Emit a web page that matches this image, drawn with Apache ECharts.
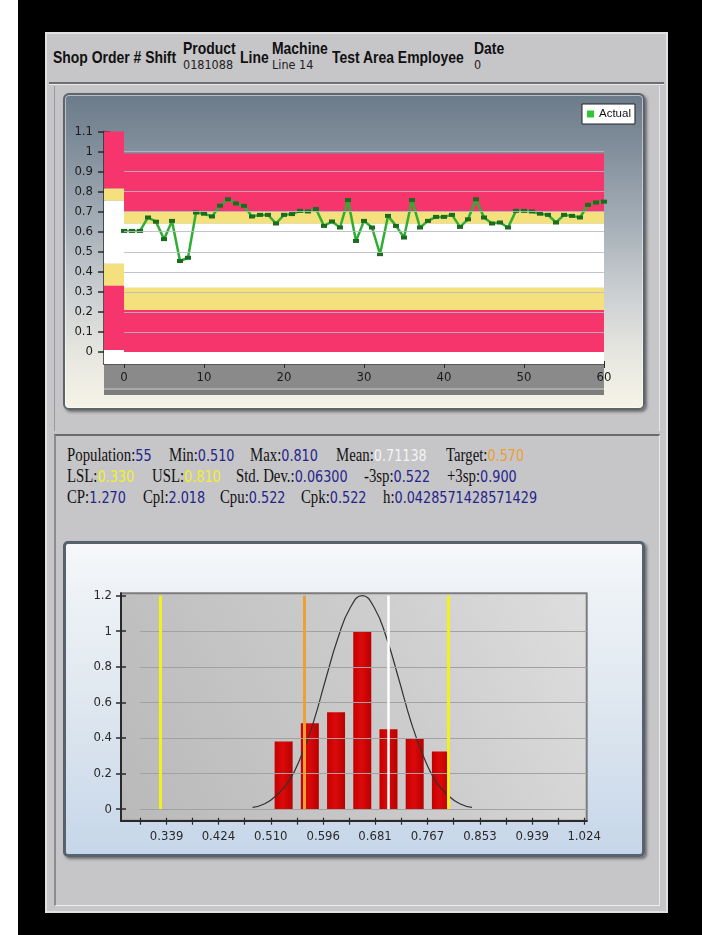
<!DOCTYPE html>
<html>
<head>
<meta charset="utf-8">
<script src="https://cdn.jsdelivr.net/npm/echarts@6.0.0/dist/echarts.min.js"></script>
<style>
html,body{margin:0;padding:0;width:702px;height:935px;overflow:hidden;background:#ffffff;}
.abs{position:absolute;box-sizing:border-box;}
#frame{left:18px;top:0;width:684px;height:935px;background:#000;}
#outer{left:45px;top:32px;width:623px;height:881px;background:#c6c5c8;border:2px solid #e1e1e3;}
#groove1{left:49px;top:82px;width:615px;height:3px;border-top:2px solid #6f6f73;border-bottom:1px solid #ececee;}
#sec1{left:54px;top:86px;width:606px;height:345px;border-left:1px solid #9a9a9e;border-right:1px solid #e6e6e8;}
#sec2{left:54px;top:434px;width:606px;height:472px;border-top:2px solid #6a6a6e;border-left:2px solid #8c8c90;border-right:1px solid #eaeaec;border-bottom:1px solid #eeeeef;}
#panel1{left:63px;top:93px;width:582px;height:317px;border:2px solid #5c646c;border-radius:6px;box-shadow:2px 2px 3px rgba(0,0,0,0.45), inset 0 0 0 1px rgba(255,255,255,0.5);background:linear-gradient(to bottom,#6c7b8a 0%,#7f8c99 15%,#a3adb6 40%,#c9cdd0 62%,#e6e6e0 82%,#f6f4e7 100%);}
#panel2{left:63px;top:541px;width:582px;height:316px;border:3px solid #57626e;border-radius:5px;box-shadow:2px 2px 3px rgba(0,0,0,0.45);background:linear-gradient(to bottom,#f6f8fa 0%,#eef2f6 14%,#dde6ef 55%,#c6d6e9 100%);}
#chart{left:0;top:0;width:702px;height:935px;}
.hd{position:absolute;white-space:nowrap;font-family:'Liberation Sans',Arial,sans-serif;font-weight:bold;font-size:17px;line-height:20px;color:#111;transform:scaleX(0.82);transform-origin:0 50%;}
.hv{position:absolute;white-space:nowrap;font-family:'DejaVu Sans Condensed','DejaVu Sans',sans-serif;font-size:12.5px;line-height:14px;color:#222;}
.st{position:absolute;white-space:nowrap;line-height:20px;transform:scaleX(0.8);transform-origin:0 50%;}
.st .l{font-family:'Liberation Serif','DejaVu Serif',serif;font-size:18.5px;color:#111;}
.st .v{font-family:'DejaVu Sans',Verdana,sans-serif;font-size:16px;color:#24248a;}
</style>
</head>
<body>
<div id="frame" class="abs"></div>
<div id="outer" class="abs"></div>
<div id="groove1" class="abs"></div>
<div id="sec1" class="abs"></div>
<div id="sec2" class="abs"></div>
<div id="panel1" class="abs"></div>
<div id="panel2" class="abs"></div>

<div class="hd" style="left:53px;top:48px;">Shop Order # Shift</div>
<div class="hd" style="left:183px;top:39px;">Product</div>
<div class="hv" style="left:183px;top:58px;">0181088</div>
<div class="hd" style="left:240px;top:48px;">Line</div>
<div class="hd" style="left:272px;top:39px;">Machine</div>
<div class="hv" style="left:272px;top:58px;">Line 14</div>
<div class="hd" style="left:332px;top:48px;">Test Area Employee</div>
<div class="hd" style="left:474px;top:39px;">Date</div>
<div class="hv" style="left:474px;top:58px;">0</div>

<div class="st" style="left:67px;top:445px;"><span class="l">Population:</span><span class="v">55</span></div>
<div class="st" style="left:169px;top:445px;"><span class="l">Min:</span><span class="v">0.510</span></div>
<div class="st" style="left:250px;top:445px;"><span class="l">Max:</span><span class="v">0.810</span></div>
<div class="st" style="left:336px;top:445px;"><span class="l">Mean:</span><span class="v" style="color:#f4f4f4;">0.71138</span></div>
<div class="st" style="left:446px;top:445px;"><span class="l">Target:</span><span class="v" style="color:#eba033;">0.570</span></div>

<div class="st" style="left:67px;top:466px;"><span class="l">LSL:</span><span class="v" style="color:#f2f02a;">0.330</span></div>
<div class="st" style="left:152px;top:466px;"><span class="l">USL:</span><span class="v" style="color:#f2f02a;">0.810</span></div>
<div class="st" style="left:236px;top:466px;"><span class="l">Std. Dev.:</span><span class="v">0.06300</span></div>
<div class="st" style="left:364px;top:466px;"><span class="l">-3sp:</span><span class="v">0.522</span></div>
<div class="st" style="left:447px;top:466px;"><span class="l">+3sp:</span><span class="v">0.900</span></div>

<div class="st" style="left:67px;top:487px;"><span class="l">CP:</span><span class="v">1.270</span></div>
<div class="st" style="left:143px;top:487px;"><span class="l">Cpl:</span><span class="v">2.018</span></div>
<div class="st" style="left:220px;top:487px;"><span class="l">Cpu:</span><span class="v">0.522</span></div>
<div class="st" style="left:301px;top:487px;"><span class="l">Cpk:</span><span class="v">0.522</span></div>
<div class="st" style="left:383px;top:487px;"><span class="l">h:</span><span class="v">0.0428571428571429</span></div>

<div id="chart" class="abs"></div>

<script>
// ---------------- control chart data ----------------
const sampleIndex = [0,1,2,3,4,5,6,7,8,9,10,11,12,13,14,15,16,17,18,19,20,21,22,23,24,25,26,27,28,29,30,31,32,33,34,35,36,37,38,39,40,41,42,43,44,45,46,47,48,49,50,51,52,53,54,55,56,57,58,59,60];
const actualValues = [0.604,0.604,0.604,0.671,0.650,0.563,0.654,0.454,0.470,0.696,0.690,0.676,0.730,0.762,0.741,0.729,0.676,0.684,0.684,0.641,0.684,0.688,0.704,0.701,0.713,0.629,0.651,0.621,0.758,0.554,0.654,0.621,0.488,0.679,0.629,0.571,0.758,0.621,0.654,0.674,0.674,0.684,0.624,0.662,0.762,0.671,0.641,0.646,0.621,0.704,0.704,0.701,0.690,0.684,0.646,0.684,0.679,0.671,0.734,0.746,0.750];
const topXTicks = [0,10,20,30,40,50,60];
const topYTicks = [0,0.1,0.2,0.3,0.4,0.5,0.6,0.7,0.8,0.9,1,1.1];
const topGridLines = [0.1,0.2,0.3,0.4,0.5,0.6,0.7,0.8,0.9,1.0];
const leftBandEdges = [1.1,0.815,0.755,0.44,0.33,0.01,-0.06];
const mainBandEdges = [0.99,0.70,0.64,0.32,0.21,0,-0.06];
const bandKinds = ['red','yellow','white','yellow','red','white'];

// ---------------- histogram data ----------------
const binCenters = [0.531,0.574,0.617,0.660,0.703,0.746,0.789];
const binHeights = [0.38,0.483,0.545,1.0,0.449,0.395,0.324];
const curveX = [0.48,0.50,0.52,0.54,0.56,0.58,0.60,0.62,0.64,0.66,0.68,0.70,0.72,0.74,0.76,0.78,0.80,0.82,0.84];
const curveY = [0.01,0.03,0.08,0.16,0.30,0.49,0.73,0.96,1.13,1.2,1.13,0.96,0.73,0.49,0.30,0.16,0.08,0.03,0.01];
const histXLabels = [0.339,0.424,0.510,0.596,0.681,0.767,0.853,0.939,1.024];
const histXTicks = [0.296,0.339,0.381,0.424,0.467,0.510,0.553,0.596,0.638,0.681,0.724,0.767,0.810,0.853,0.896,0.939,0.981,1.024];
const histYTicks = [0,0.2,0.4,0.6,0.8,1,1.2];
const histGridLines = [0,0.2,0.4,0.6,0.8,1.0];
const specNames = ['LSL','Target','Mean','USL'];
const specValues = [0.328,0.565,0.7025,0.8005];

// ---------------- styles ----------------
const BAND_COLORS = {red:'#f5356b', yellow:'#f4e07c', white:'#ffffff'};
const SPEC_STYLE = {LSL:{color:'#f4f01e',width:3}, Target:{color:'#eda132',width:3}, Mean:{color:'#ffffff',width:2.5}, USL:{color:'#f4f01e',width:3}};
const FONT = "'DejaVu Sans Condensed','Liberation Sans',sans-serif";

const X_MIN_TOP = -2.5, X_MAX_TOP = 60, Y_MIN_TOP = -0.06, Y_MAX_TOP = 1.1;
const X_MIN_H = 0.2642, X_MAX_H = 1.0282, Y_MIN_H = -0.065, Y_MAX_H = 1.213;

function bandAreas(edges, x0, x1) {
  const out = [];
  for (let i = 0; i < edges.length - 1; i++) {
    out.push([
      {xAxis: x0, yAxis: edges[i], itemStyle: {color: BAND_COLORS[bandKinds[i]]}},
      {xAxis: x1, yAxis: edges[i + 1]}
    ]);
  }
  return out;
}

const chart = echarts.init(document.getElementById('chart'), null, {renderer: 'canvas'});

const axisLabelTop = {color: '#1c1c1c', fontSize: 13, fontFamily: FONT};

const option = {
  animation: false,
  backgroundColor: 'transparent',
  grid: [
    {left: 104, right: 98, top: 131.5, bottom: 571, show: false},
    {left: 121, right: 115.3, top: 593.3, bottom: 114.3, show: true,
     borderColor: '#7c7c7c', borderWidth: 2,
     backgroundColor: {type: 'linear', x: 0, y: 1, x2: 1, y2: 0,
       colorStops: [{offset: 0, color: '#b9b9b9'}, {offset: 0.55, color: '#cbcbcb'}, {offset: 1, color: '#dedede'}]}}
  ],
  legend: {
    left: 582, top: 104,
    data: [{name: 'Actual', icon: 'rect', itemStyle: {color: '#33c433'}}],
    itemWidth: 7, itemHeight: 7,
    backgroundColor: '#ffffff', borderColor: '#222', borderWidth: 1,
    padding: [3, 4, 3, 5],
    textStyle: {color: '#111', fontSize: 11.5, fontFamily: "'Liberation Sans',Arial,sans-serif", lineHeight: 14},
    selectedMode: false
  },
  graphic: [
    {type: 'rect', z: -1, shape: {x: 104, y: 365, width: 500, height: 23}, style: {fill: '#8a8a8a'}},
    {type: 'rect', z: -1, shape: {x: 104, y: 388, width: 500, height: 2}, style: {fill: '#a9a9a9'}},
    {type: 'rect', z: -1, shape: {x: 104, y: 390, width: 500, height: 5}, style: {fill: '#7d7d7d'}}
  ],
  xAxis: [
    {type: 'value', gridIndex: 0, min: X_MIN_TOP, max: X_MAX_TOP, position: 'bottom',
     axisLine: {show: true, onZero: false, lineStyle: {color: '#2a2a2a', width: 1.5}},
     axisTick: {show: true, length: 4, customValues: topXTicks, lineStyle: {color: '#2a2a2a'}},
     axisLabel: Object.assign({customValues: topXTicks, margin: 7}, axisLabelTop),
     splitLine: {show: false}},
    {type: 'value', gridIndex: 0, min: X_MIN_TOP, max: X_MAX_TOP, position: 'bottom',
     axisLine: {show: false, onZero: false},
     axisTick: {show: true, inside: true, length: 3, customValues: topXTicks, lineStyle: {color: '#2a2a2a'}},
     axisLabel: {show: false}, splitLine: {show: false}},
    {type: 'value', gridIndex: 1, min: X_MIN_H, max: X_MAX_H, position: 'bottom',
     axisLine: {show: true, onZero: false, lineStyle: {color: '#2a2a2a', width: 2}},
     axisTick: {show: true, length: 4, customValues: histXTicks, lineStyle: {color: '#2a2a2a', width: 1.2}},
     axisLabel: {customValues: histXLabels, margin: 9, color: '#2a2a2a', fontSize: 13, fontFamily: FONT,
       formatter: v => v.toFixed(3)},
     splitLine: {show: false}},
    {type: 'value', gridIndex: 1, min: X_MIN_H, max: X_MAX_H, position: 'bottom',
     axisLine: {show: false, onZero: false},
     axisTick: {show: true, inside: true, length: 3, customValues: histXTicks, lineStyle: {color: '#2a2a2a', width: 1.2}},
     axisLabel: {show: false}, splitLine: {show: false}}
  ],
  yAxis: [
    {type: 'value', gridIndex: 0, min: Y_MIN_TOP, max: Y_MAX_TOP, position: 'left',
     axisLine: {show: true, onZero: false, lineStyle: {color: '#2a2a2a', width: 1.5}},
     axisTick: {show: true, length: 6, customValues: topYTicks, lineStyle: {color: '#2a2a2a', width: 1.5}},
     axisLabel: Object.assign({customValues: topYTicks, margin: 11, formatter: v => String(Math.round(v * 10) / 10)}, axisLabelTop),
     splitLine: {show: false}},
    {type: 'value', gridIndex: 0, min: Y_MIN_TOP, max: Y_MAX_TOP, position: 'left',
     axisLine: {show: false, onZero: false},
     axisTick: {show: true, inside: true, length: 6, customValues: topYTicks, lineStyle: {color: '#2a2a2a', width: 1.5}},
     axisLabel: {show: false}, splitLine: {show: false}},
    {type: 'value', gridIndex: 1, min: Y_MIN_H, max: Y_MAX_H, position: 'left',
     axisLine: {show: true, onZero: false, lineStyle: {color: '#2a2a2a', width: 2}},
     axisTick: {show: true, length: 5, customValues: histYTicks, lineStyle: {color: '#2a2a2a', width: 1.5}},
     axisLabel: {customValues: histYTicks, margin: 9, color: '#2a2a2a', fontSize: 13, fontFamily: FONT,
       formatter: v => String(Math.round(v * 10) / 10)},
     splitLine: {show: false}},
    {type: 'value', gridIndex: 1, min: Y_MIN_H, max: Y_MAX_H, position: 'left',
     axisLine: {show: false, onZero: false},
     axisTick: {show: true, inside: true, length: 5, customValues: histYTicks, lineStyle: {color: '#2a2a2a', width: 1.5}},
     axisLabel: {show: false}, splitLine: {show: false}}
  ],
  series: [
    {name: 'bands', type: 'line', xAxisIndex: 0, yAxisIndex: 0, data: [], z: 1, silent: true,
     markArea: {silent: true, label: {show: false},
       data: bandAreas(leftBandEdges, X_MIN_TOP, 0).concat(bandAreas(mainBandEdges, 0, X_MAX_TOP))}},
    {name: 'topgrid', type: 'line', xAxisIndex: 0, yAxisIndex: 0, data: [], z: 2, silent: true,
     markLine: {silent: true, symbol: ['none', 'none'], label: {show: false},
       lineStyle: {color: 'rgba(185,185,196,0.85)', width: 1, type: 'solid'},
       data: topGridLines.map(v => [{coord: [0, v]}, {coord: [X_MAX_TOP, v]}])}},
    {name: 'Actual', type: 'line', xAxisIndex: 0, yAxisIndex: 0, z: 3,
     data: sampleIndex.map((x, i) => [x, actualValues[i]]),
     symbol: 'rect', symbolSize: [6, 4], showSymbol: true,
     itemStyle: {color: '#1d6a21'},
     lineStyle: {color: '#2fae34', width: 2.5}},
    {name: 'histgrid', type: 'line', xAxisIndex: 2, yAxisIndex: 2, data: [], z: 1, silent: true,
     markLine: {silent: true, symbol: ['none', 'none'], label: {show: false},
       lineStyle: {color: '#a2a2a2', width: 1.2, type: 'solid'},
       data: histGridLines.map(v => [{coord: [0.296, v]}, {coord: [X_MAX_H, v]}])}},
    {name: 'Frequency', type: 'bar', xAxisIndex: 2, yAxisIndex: 2, z: 2, barWidth: 18,
     data: binCenters.map((c, i) => [c, binHeights[i]]),
     itemStyle: {color: {type: 'linear', x: 0, y: 0, x2: 1, y2: 0,
       colorStops: [{offset: 0, color: '#c40000'}, {offset: 0.45, color: '#dc0a0a'}, {offset: 1, color: '#b80000'}]}}},
    {name: 'Normal', type: 'line', xAxisIndex: 2, yAxisIndex: 2, z: 3, smooth: true, showSymbol: false,
     data: curveX.map((x, i) => [x, curveY[i]]),
     lineStyle: {color: '#333333', width: 1.2}},
    {name: 'spec', type: 'line', xAxisIndex: 2, yAxisIndex: 2, data: [], z: 4, silent: true,
     markLine: {silent: true, symbol: ['none', 'none'], label: {show: false},
       data: specNames.map((n, i) => [
         {coord: [specValues[i], 0], lineStyle: {color: SPEC_STYLE[n].color, width: SPEC_STYLE[n].width, type: 'solid'}},
         {coord: [specValues[i], 1.2]}])}}
  ]
};
chart.setOption(option);
</script>
</body>
</html>
